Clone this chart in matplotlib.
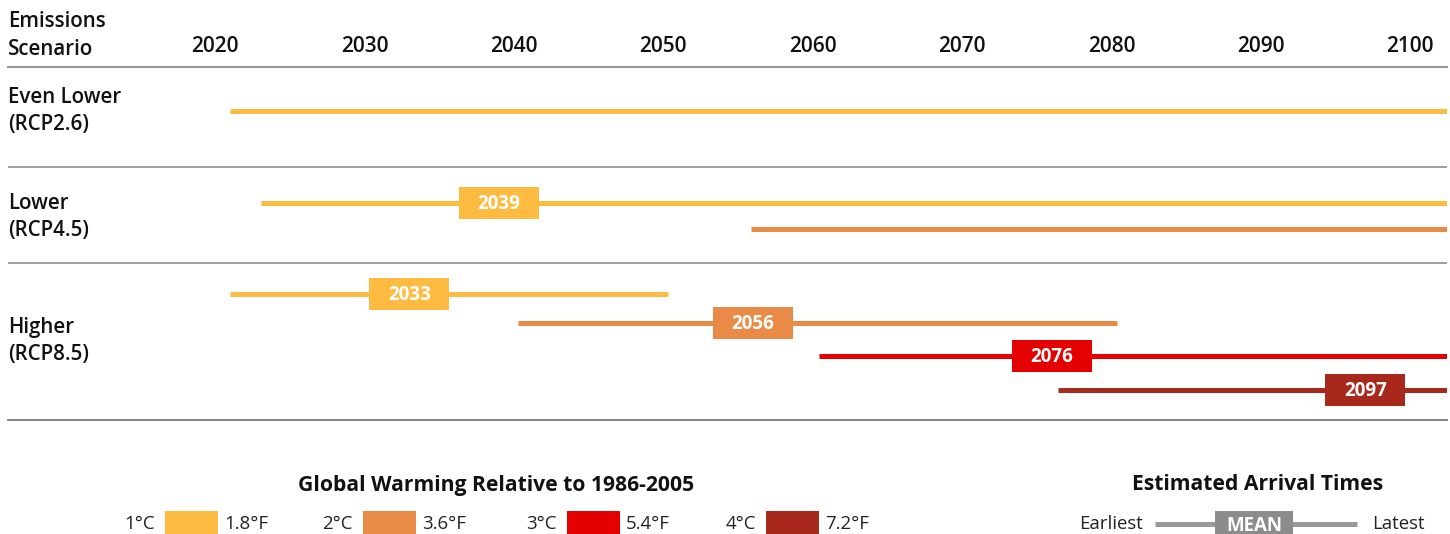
import numpy as np
import matplotlib.pyplot as plt
from matplotlib.patches import Rectangle
from matplotlib.transforms import blended_transform_factory

plt.rcParams['font.family'] = ['Open Sans', 'DejaVu Sans']

# scenarios and the warming bars drawn in each one
scenarios = ["Even Lower\n(RCP2.6)", "Lower\n(RCP4.5)", "Higher\n(RCP8.5)"]
years = list(range(2020, 2101, 10))

bar_scenario = [0, 1, 1, 2, 2, 2, 2]
bar_level = [0, 0, 1, 0, 1, 2, 3]
earliest = [2021.0, 2023.1, 2055.9, 2021.0, 2040.3, 2060.4, 2076.4]
latest = [2102.5, 2102.5, 2102.5, 2050.3, 2080.4, 2102.5, 2102.5]
mean = [np.nan, 2039, np.nan, 2033, 2056, 2076, 2097]

levels_c = ["1°C", "2°C", "3°C", "4°C"]
levels_f = ["1.8°F", "3.6°F", "5.4°F", "7.2°F"]
level_colors = ["#FDBB42", "#E98A47", "#E50000", "#A8291B"]

# layout (pixel rows of the drawing)
W, H = 1450, 534
px_per_year = 14.94
bar_y = [111, 203, 229, 294, 323, 356, 390]
label_y = [111, 217, 341]
sep_y = [167, 263]
box_w = 80 / px_per_year
box_h = 32


def yr(px):
    return 2020 + (px - 215) / px_per_year


fig = plt.figure(figsize=(W / 100, H / 100), dpi=100)
ax = fig.add_axes([8 / W, 1 - 420 / H, 1439 / W, 353 / H])
ax.set_xlim(yr(8), yr(1447))
ax.set_ylim(420, 67)

for s in ["left", "right"]:
    ax.spines[s].set_visible(False)
ax.spines["top"].set_color("#999999")
ax.spines["top"].set_linewidth(1.5)
ax.spines["bottom"].set_color("#777777")
ax.spines["bottom"].set_linewidth(1.3)
for y in sep_y:
    ax.axhline(y, color="#999999", lw=1.3)

ax.set_yticks([])
ax.xaxis.tick_top()
ax.set_xticks(years)
ax.set_xticklabels([str(y) for y in years], fontsize=15, fontweight="semibold",
                   color="#111111")
ax.tick_params(axis="x", length=0, pad=7)

for i in range(len(earliest)):
    c = level_colors[bar_level[i]]
    ax.plot([earliest[i], latest[i]], [bar_y[i], bar_y[i]], color=c, lw=3.6,
            solid_capstyle="butt", zorder=2)
    if not np.isnan(mean[i]):
        ax.add_patch(Rectangle((mean[i] - box_w / 2, bar_y[i] - box_h / 2), box_w, box_h,
                               facecolor=c, edgecolor="none", zorder=3))
        ax.text(mean[i], bar_y[i] + 1, str(int(mean[i])), color="white", fontsize=13.5,
                fontweight="bold", ha="center", va="center", zorder=4)

trans = blended_transform_factory(ax.transAxes, ax.transData)
for name, y in zip(scenarios, label_y):
    ax.text(0, y, name, transform=trans, fontsize=14.8, fontweight="semibold",
            ha="left", va="center", linespacing=1.38, color="#111111")
ax.text(0, 35.5, "Emissions\nScenario", transform=trans, fontsize=14.8,
        fontweight="semibold", ha="left", va="center", linespacing=1.38, clip_on=False,
        color="#111111")


def fx(x):
    return x / W


def fy(y):
    return 1 - y / H


# warming level legend
fig.text(fx(496), fy(485), "Global Warming Relative to 1986-2005", fontsize=15.2,
         fontweight="bold", ha="center", va="center", color="#111111")
sw_x = [165, 363, 567, 766]
for i in range(4):
    x0 = sw_x[i]
    fig.patches.append(Rectangle((fx(x0), fy(540)), fx(53), 29 / H, facecolor=level_colors[i],
                                 edgecolor="none", transform=fig.transFigure))
    fig.text(fx(x0 - 10), fy(524), levels_c[i], fontsize=13.4, ha="right", va="center",
             color="#222222")
    fig.text(fx(x0 + 59), fy(524), levels_f[i], fontsize=13.4, ha="left", va="center",
             color="#222222")

# arrival time key
fig.text(fx(1258), fy(485), "Estimated Arrival Times", fontsize=15.2, fontweight="bold",
         ha="center", va="center", color="#111111")
fig.add_artist(plt.Line2D([fx(1155), fx(1357)], [fy(524), fy(524)], color="#999999",
                          lw=3.6, solid_capstyle="butt", transform=fig.transFigure))
fig.patches.append(Rectangle((fx(1215), fy(540)), fx(78), 29 / H, facecolor="#8C8C8C",
                             edgecolor="none", transform=fig.transFigure, zorder=3))
fig.text(fx(1254), fy(526), "MEAN", fontsize=13.5, fontweight="bold", color="white",
         ha="center", va="center", zorder=4)
fig.text(fx(1143), fy(524), "Earliest", fontsize=13.4, ha="right", va="center", color="#222222")
fig.text(fx(1372), fy(524), "Latest", fontsize=13.4, ha="left", va="center", color="#222222")

fig.savefig("out.png", dpi=100)
